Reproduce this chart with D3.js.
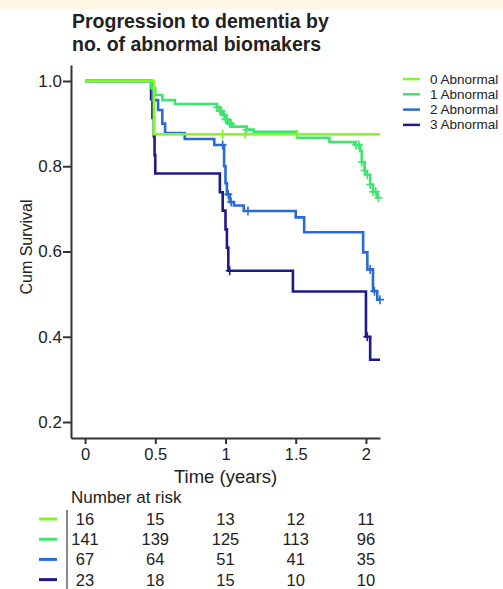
<!DOCTYPE html>
<html>
<head>
<meta charset="utf-8">
<script src="https://cdn.jsdelivr.net/npm/d3@7"></script>
<style>
  body { margin: 0; background: #fff; }
  text { font-family: "Liberation Sans", Arial, sans-serif; fill: #222; }
</style>
</head>
<body>
<svg id="viz"></svg>
<script>
const WIDTH = 503
const HEIGHT = 589

const GROUPS = ['0 Abnormal', '1 Abnormal', '2 Abnormal', '3 Abnormal']
const COLORS = ['#80fb1c', '#3de56e', '#2a6ad6', '#1d1b8c']

// step times / survival, censor times, end of follow-up
const times0 = [0, 0.49]
const surv0 = [1, 0.875]
const cens0 = [0.98, 1.14, 1.51]
const end0 = 2.1

const times1 = [0, 0.47, 0.50, 0.55, 0.64, 0.94, 0.96, 0.98, 1.00, 1.02, 1.05, 1.15, 1.20, 1.51, 1.74, 1.92, 1.96, 1.97, 1.99, 2.00, 2.03, 2.05, 2.08]
const surv1 = [1, 0.983, 0.967, 0.955, 0.946, 0.938, 0.93, 0.92, 0.91, 0.90, 0.893, 0.886, 0.881, 0.867, 0.857, 0.85, 0.835, 0.81, 0.79, 0.78, 0.757, 0.74, 0.726]
const cens1 = [0.94, 0.96, 0.97, 0.99, 1.0, 1.01, 1.03, 1.04, 1.15, 1.93, 1.95, 1.97, 1.99, 2.01, 2.03, 2.05, 2.07, 2.09]
const end1 = 2.09

const times2 = [0, 0.48, 0.52, 0.55, 0.57, 0.71, 0.92, 0.99, 1.00, 1.01, 1.03, 1.06, 1.13, 1.50, 1.56, 1.98, 2.01, 2.05, 2.08]
const surv2 = [1, 0.955, 0.932, 0.90, 0.878, 0.864, 0.85, 0.80, 0.76, 0.734, 0.716, 0.708, 0.695, 0.68, 0.645, 0.598, 0.558, 0.507, 0.487]
const cens2 = [0.98, 1.02, 1.04, 1.16, 2.03, 2.06, 2.1]
const end2 = 2.1

const times3 = [0, 0.47, 0.48, 0.49, 0.495, 0.50, 0.96, 0.98, 1.0, 1.01, 1.02, 1.48, 2.0, 2.03]
const surv3 = [1, 0.957, 0.913, 0.870, 0.826, 0.783, 0.739, 0.696, 0.652, 0.609, 0.555, 0.506, 0.40, 0.346]
const cens3 = [1.03, 2.01]
const end3 = 2.1

const X_TICKS = [0, 0.5, 1, 1.5, 2]
const Y_TICKS = [0.2, 0.4, 0.6, 0.8, 1.0]

const RISK_TIMES = [0, 0.5, 1, 1.5, 2]
const risk0 = [16, 15, 13, 12, 11]
const risk1 = [141, 139, 125, 113, 96]
const risk2 = [67, 64, 51, 41, 35]
const risk3 = [23, 18, 15, 10, 10]

const curves = [
    { times: times0, surv: surv0, cens: cens0, end: end0, risk: risk0 },
    { times: times1, surv: surv1, cens: cens1, end: end1, risk: risk1 },
    { times: times2, surv: surv2, cens: cens2, end: end2, risk: risk2 },
    { times: times3, surv: surv3, cens: cens3, end: end3, risk: risk3 },
]

const svg = d3.select('#viz').attr('width', WIDTH).attr('height', HEIGHT)

svg.append('rect').attr('width', WIDTH).attr('height', 9.5).attr('fill', '#fcf6e3')

const x = d3.scaleLinear().domain([-0.1, 2.1]).range([71, 380])
const y = d3.scaleLinear().domain([0.1625, 1.0375]).range([438, 65])

// title
svg.append('text').attr('x', 72).attr('y', 28)
    .style('font-size', '19.5px').style('font-weight', 'bold')
    .text('Progression to dementia by')
svg.append('text').attr('x', 72).attr('y', 51)
    .style('font-size', '19.5px').style('font-weight', 'bold')
    .text('no. of abnormal biomakers')

// axes
const yAxis = svg.append('g').attr('transform', 'translate(71,0)')
    .call(d3.axisLeft(y).tickValues(Y_TICKS).tickFormat(d3.format('.1f'))
        .tickSize(8).tickSizeOuter(0).tickPadding(1))
yAxis.selectAll('text').style('font-size', '17px')

const xAxis = svg.append('g').attr('transform', 'translate(0,438)')
    .call(d3.axisBottom(x).tickValues(X_TICKS).tickFormat(d3.format('~g'))
        .tickSize(6).tickSizeOuter(0).tickPadding(4))
xAxis.selectAll('text').style('font-size', '16.5px')

svg.selectAll('.domain, .tick line').attr('stroke', '#333').attr('stroke-width', 2)
svg.selectAll('.tick text').attr('fill', '#222')

svg.append('text').attr('transform', 'translate(32,247) rotate(-90)')
    .attr('text-anchor', 'middle').style('font-size', '16px')
    .text('Cum Survival')

svg.append('text').attr('x', x(1)).attr('y', 483)
    .attr('text-anchor', 'middle').style('font-size', '18.5px')
    .text('Time (years)')

// curves, drawn back to front
const line = d3.line()
    .x(d => x(d[0]))
    .y(d => y(d[1]))
    .curve(d3.curveStepAfter)

const survAt = (c, t) => {
    const i = d3.bisectRight(c.times, t) - 1
    return c.surv[Math.max(i, 0)]
}

const order = [3, 2, 1, 0]
order.forEach(i => {
    const c = curves[i]
    const pts = c.times.map((t, j) => [t, c.surv[j]])
    pts.push([c.end, c.surv[c.surv.length - 1]])

    svg.append('path')
        .attr('d', line(pts))
        .attr('fill', 'none')
        .attr('stroke', COLORS[i])
        .attr('stroke-width', 2.6)

    svg.append('g').selectAll('path')
        .data(c.cens)
        .enter().append('path')
            .attr('d', t => {
                const cx = x(t), cy = y(survAt(c, t))
                return `M${cx},${cy - 4.5}V${cy + 4.5}M${cx - 4},${cy}H${cx + 4}`
            })
            .attr('stroke', COLORS[i])
            .attr('stroke-width', 1.6)
            .attr('fill', 'none')
})

// legend
const legend = svg.append('g')
GROUPS.forEach((g, i) => {
    const ly = 79 + i * 15.3
    legend.append('line')
        .attr('x1', 403).attr('x2', 420).attr('y1', ly).attr('y2', ly)
        .attr('stroke', COLORS[i]).attr('stroke-width', 2.5)
    legend.append('text')
        .attr('x', 430).attr('y', ly + 4.5)
        .style('font-size', '13.5px')
        .text(g)
})

// number at risk table
svg.append('text').attr('x', 71).attr('y', 503)
    .style('font-size', '17px').text('Number at risk')

svg.append('line').attr('x1', 67).attr('x2', 67).attr('y1', 510).attr('y2', HEIGHT)
    .attr('stroke', '#888').attr('stroke-width', 2)

curves.forEach((c, i) => {
    const ry = 519 + i * 20.2
    svg.append('line')
        .attr('x1', 39).attr('x2', 57).attr('y1', ry).attr('y2', ry)
        .attr('stroke', COLORS[i]).attr('stroke-width', 3)
    svg.append('g').selectAll('text')
        .data(c.risk)
        .enter().append('text')
            .attr('x', (d, j) => x(RISK_TIMES[j]))
            .attr('y', ry + 6)
            .attr('text-anchor', 'middle')
            .style('font-size', '16.5px')
            .text(d => d)
})
</script>
</body>
</html>
